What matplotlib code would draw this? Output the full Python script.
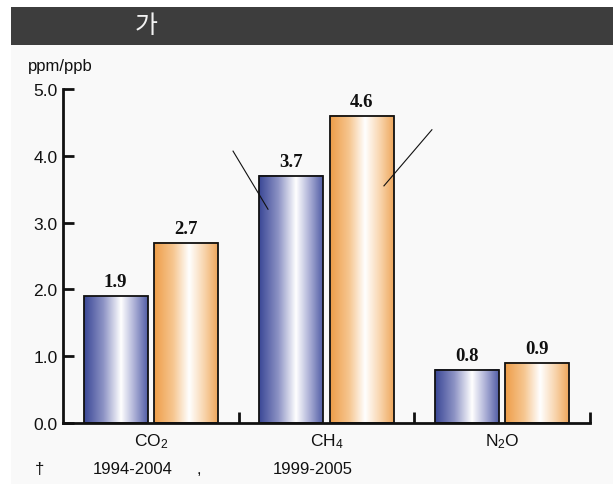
import numpy as np
import matplotlib
matplotlib.use("Agg")
import matplotlib.pyplot as plt
from matplotlib.patches import Rectangle
from matplotlib.colors import LinearSegmentedColormap

plt.rcParams['font.family'] = ['Liberation Sans', 'Noto Sans CJK KR', 'DejaVu Sans']
plt.rcParams['mathtext.fontset'] = 'custom'
plt.rcParams['mathtext.rm'] = 'Liberation Sans'
plt.rcParams['mathtext.it'] = 'Liberation Sans'

# ---- data ----
title = "가"
unit_label = "ppm/ppb"
categories = [r"$\mathrm{CO_2}$", r"$\mathrm{CH_4}$", r"$\mathrm{N_2O}$"]
series_a = [1.9, 3.7, 0.8]   # blue
series_b = [2.7, 4.6, 0.9]   # orange
yticks = [0.0, 1.0, 2.0, 3.0, 4.0, 5.0]
ytick_labels = ["0.0", "1.0", "2.0", "3.0", "4.0", "5.0"]
footnote_parts = ["†", "1994-2004", ",", "1999-2005"]

W, H = 613, 485
fig = plt.figure(figsize=(W / 100, H / 100), dpi=100, facecolor="white")

# background panel and header bar
fig.patches.append(Rectangle((11 / W, 0), 1 - 11 / W, 1 - 46 / H, transform=fig.transFigure,
                             facecolor="#f9f9f9", edgecolor="none", zorder=-10))
fig.patches.append(Rectangle((11 / W, 1 - 46 / H), 1 - 11 / W, 38 / H, transform=fig.transFigure,
                             facecolor="#3d3d3d", edgecolor="none", zorder=-10))
fig.text(146 / W, 1 - 26 / H, title, color="#f2f2f2", fontsize=18,
         family=['Noto Sans CJK KR', 'DejaVu Sans'], ha="center", va="center")

ax = fig.add_axes([63 / W, 1 - 424 / H, (590 - 63) / W, (424 - 90) / H])
ax.set_facecolor("none")
ax.set_zorder(5)

blue_cmap = LinearSegmentedColormap.from_list(
    "b", [(0, "#3a4796"), (0.3, "#8c92c4"), (0.58, "#ffffff"), (0.8, "#a8acd4"), (1, "#525ea6")])
orange_cmap = LinearSegmentedColormap.from_list(
    "o", [(0, "#ee9d48"), (0.3, "#f6c690"), (0.55, "#ffffff"), (0.8, "#f8d2a8"), (1, "#eea75c")])
grad = np.linspace(0, 1, 256).reshape(1, -1)

offset = 0.2
width = 0.363
x = np.arange(len(categories))


def grad_bar(xc, h, cmap):
    x0, x1 = xc - width / 2, xc + width / 2
    ax.imshow(grad, cmap=cmap, aspect="auto", extent=(x0, x1, 0, h), zorder=2,
              interpolation="bilinear")
    ax.add_patch(Rectangle((x0, 0), width, h, facecolor="none", edgecolor="#111111",
                           linewidth=1.3, zorder=3))


label_font = dict(family="Liberation Serif", fontweight="bold", fontsize=13.5, color="#111111")
for i in range(len(categories)):
    grad_bar(x[i] - offset, series_a[i], blue_cmap)
    grad_bar(x[i] + offset, series_b[i], orange_cmap)
    ax.text(x[i] - offset, series_a[i] + 0.09, f"{series_a[i]:.1f}", ha="center", va="bottom", **label_font)
    ax.text(x[i] + offset, series_b[i] + 0.09, f"{series_b[i]:.1f}", ha="center", va="bottom", **label_font)

ax.set_xlim(-0.5, 2.5)
ax.set_ylim(0, 5)

# leader lines
ax.plot([0.468, 0.667], [4.07, 3.20], color="#111111", lw=0.8, zorder=4)
ax.plot([1.60, 1.327], [4.39, 3.55], color="#111111", lw=0.8, zorder=4)

for s in ["top", "right"]:
    ax.spines[s].set_visible(False)
for s in ["left", "bottom"]:
    ax.spines[s].set_linewidth(2.0)
    ax.spines[s].set_color("#111111")

ax.set_yticks(yticks)
ax.set_yticklabels(ytick_labels)
ax.tick_params(axis="y", direction="in", length=8, width=2, labelsize=12.5, pad=4, colors="#111111")

ax.set_xticks([0.5, 1.5, 2.5])
ax.set_xticklabels([])
ax.tick_params(axis="x", direction="in", length=8, width=2, colors="#111111")
for i, c in enumerate(categories):
    ax.text(x[i], -0.12, c, ha="center", va="top", fontsize=12.5, color="#111111")

fig.text(28 / W, 1 - 67 / H, unit_label, fontsize=12, va="center", ha="left", color="#111111")

foot_x = [35, 93, 197, 273]
for fx, t in zip(foot_x, footnote_parts):
    fig.text(fx / W, 1 - 470 / H, t, fontsize=12, va="center", ha="left", color="#111111")

fig.savefig("out.png", dpi=100, facecolor=fig.get_facecolor())
